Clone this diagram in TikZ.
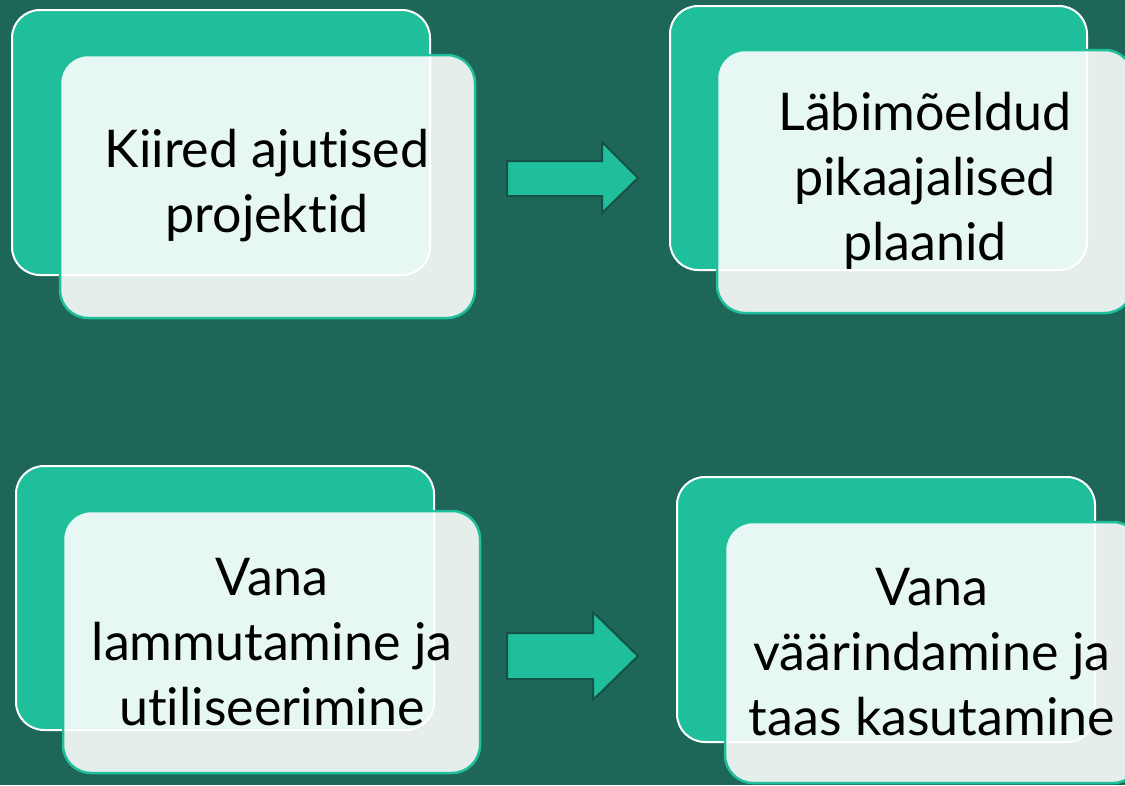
\documentclass[tikz,border=0pt]{standalone}
\usepackage{fontspec}
\setmainfont[Ligatures={NoCommon,NoDiscretionary,NoContextual}]{Lato}
\definecolor{bgdark}{HTML}{1E6658}
\definecolor{teal}{HTML}{20BF9B}
\definecolor{arrowedge}{HTML}{145247}
\begin{document}
\begin{tikzpicture}[x=1pt,y=-1pt,
  backbox/.style={fill=teal,draw=white,line width=2pt,rounded corners=28pt},
  frontbox/.style={fill=white,fill opacity=0.89,draw=teal,draw opacity=1,line width=2.5pt,rounded corners=28pt},
  label/.style={align=center,text=black,font=\fontsize{52}{65}\selectfont,inner sep=0pt},
  blockarrow/.style={fill=teal,draw=arrowedge,line width=2pt,line join=miter}]
\useasboundingbox (0,0) rectangle (1125,785);
\fill[bgdark] (0,0) rectangle (1125,785);
\clip (0,0) rectangle (1125,785);
% box 1
\draw[backbox] (12,10) rectangle (430,275);
\draw[frontbox] (60,55) rectangle (475,318);
\node[label] (t1) at (267,186) {Kiired ajutised\\projektid};
% box 2
\draw[backbox] (670,6) rectangle (1087,270);
\draw[frontbox] (717,50) rectangle (1133,313);
\node[label] (t2) at (925,181) {Läbimõeldud\\pikaajalised\\plaanid};
% box 3
\draw[backbox] (16,466) rectangle (434,730);
\draw[frontbox] (63,511) rectangle (480,773);
\node[label] (t3) at (272,642) {Vana\\lammutamine ja\\utiliseerimine};
% box 4
\draw[backbox] (677,477) rectangle (1095,742);
\draw[frontbox] (725,522) rectangle (1141,783);
\node[label] (t4) at (932,652) {Vana\\väärindamine ja\\taas kasutamine};
% arrows
\draw[blockarrow] (507,161) -- (602,161) -- (602,142) -- (638,178) -- (602,213) -- (602,196) -- (507,196) -- cycle;
\draw[blockarrow] (507,633) -- (593,633) -- (593,612) -- (638,656) -- (593,700) -- (593,679) -- (507,679) -- cycle;
\end{tikzpicture}
\end{document}
